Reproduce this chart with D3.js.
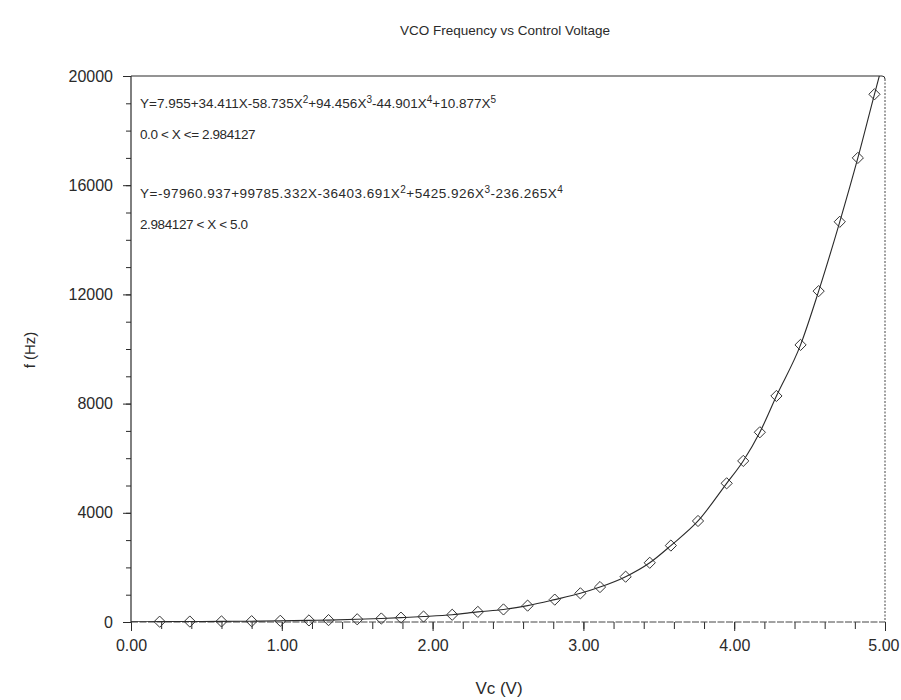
<!DOCTYPE html>
<html><head><meta charset="utf-8">
<script src="https://cdn.jsdelivr.net/npm/d3@7"></script>
<style>
body{margin:0;background:#fff}
text{font-family:"Liberation Sans Narrow","Liberation Sans",Arial,sans-serif;fill:#2a2a2a}
</style>
</head><body>
<svg id="c" width="901" height="700"></svg>
<script>
// ---- data ----
const voltage   = [0.19,0.39,0.60,0.80,0.99,1.18,1.31,1.50,1.66,1.79,1.94,2.13,2.30,2.47,2.63,2.81,2.98,3.11,3.28,3.44,3.58,3.76,3.95,4.06,4.17,4.28,4.44,4.56,4.70,4.82,4.93];
const frequency = [12,17,22,30,44,58,70,100,128,160,200,265,370,460,600,820,1050,1280,1660,2170,2800,3700,5080,5900,6950,8280,10150,12120,14660,17000,19330];
const curveStart = [0.0, 8];
const curveEnd   = [4.97, 20160];
const xTicks = [0,1,2,3,4,5];
const yTicks = [0,4000,8000,12000,16000,20000];
const title  = "VCO Frequency vs Control Voltage";
const xLabel = "Vc (V)";
const yLabel = "f (Hz)";
const equations = [
  "Y=7.955+34.411X-58.735X^2+94.456X^3-44.901X^4+10.877X^5",
  "0.0 < X <= 2.984127",
  "Y=-97960.937+99785.332X-36403.691X^2+5425.926X^3-236.265X^4",
  "2.984127 < X < 5.0"
];

// ---- layout ----
const svg = d3.select("#c");
const L = 131, R = 885, T = 76, B = 622;
const x = d3.scaleLinear().domain([0,5]).range([L,R]);
const y = d3.scaleLinear().domain([0,20000]).range([B,T]);
const ink = "#2a2a2a";

// title
svg.append("text").attr("x",505).attr("y",35).attr("text-anchor","middle")
  .attr("font-size",13.5).text(title);

// frame: top solid, right dotted
svg.append("line").attr("x1",L).attr("x2",R-3).attr("y1",T).attr("y2",T)
  .attr("stroke",ink).attr("stroke-width",1.2);
svg.append("path").attr("d",`M${R-3},${T} Q${R},${T} ${R},${T+3}`).attr("fill","none").attr("stroke",ink);
svg.append("line").attr("x1",R).attr("x2",R).attr("y1",T+3).attr("y2",B)
  .attr("stroke","#444").attr("stroke-width",1).attr("stroke-dasharray","2,1.5");

// y axis
const yMinor = svg.append("g").attr("transform",`translate(${L},0)`)
  .call(d3.axisLeft(y).tickValues(d3.range(0,20001,1000)).tickSize(5).tickFormat(""));
const yAxis = svg.append("g").attr("transform",`translate(${L},0)`)
  .call(d3.axisLeft(y).tickValues(yTicks).tickSize(8).tickPadding(10).tickFormat(d3.format("d")));
// x axis
const xMinor = svg.append("g").attr("transform",`translate(0,${B})`)
  .call(d3.axisBottom(x).tickValues(d3.range(0,5.001,0.2)).tickSize(7).tickFormat(""));
const xAxis = svg.append("g").attr("transform",`translate(0,${B})`)
  .call(d3.axisBottom(x).tickValues(xTicks).tickSize(9).tickPadding(9).tickFormat(d3.format(".2f")));
[yMinor,yAxis,xMinor,xAxis].forEach(g=>{
  g.select(".domain").remove();
  g.selectAll("line").attr("stroke",ink).attr("stroke-width",1);
  g.selectAll("text").attr("font-size",16).attr("fill",ink)
   .style("font-family",'"Liberation Sans Narrow","Liberation Sans",Arial,sans-serif');
});
xAxis.selectAll("text").filter(d=>d===5).attr("text-anchor","end").attr("dx",14);
svg.append("line").attr("x1",L).attr("x2",L).attr("y1",T).attr("y2",B).attr("stroke",ink).attr("stroke-width",1.2);
svg.append("line").attr("x1",L).attr("x2",R).attr("y1",B).attr("y2",B).attr("stroke","#444").attr("stroke-width",1).attr("stroke-dasharray","7,1.5");

// axis labels
svg.append("text").attr("x",499).attr("y",694).attr("text-anchor","middle").attr("font-size",17).text(xLabel);
svg.append("text").attr("transform","translate(35,350) rotate(-90)").attr("text-anchor","middle").attr("font-size",15).text(yLabel);

// equations
const eqY = [108,139,198,229];
const eqSpacing = [0, -0.4, 0.5, -0.4];
equations.forEach((s,i)=>{
  const t = svg.append("text").attr("x",140).attr("y",eqY[i]).attr("font-size",13.5)
    .attr("letter-spacing",eqSpacing[i]);
  const parts = s.split(/(\^\d)/).filter(p=>p.length);
  parts.forEach(p=>{
    if (p[0]==="^") t.append("tspan").attr("baseline-shift","super").attr("font-size",10).text(p.slice(1));
    else t.append("tspan").text(p);
  });
});

// clip
svg.append("clipPath").attr("id","clip").append("rect").attr("x",L).attr("y",T).attr("width",R-L).attr("height",B-T);

const pts = voltage.map((v,i)=>({v, f:frequency[i]}));
const linePts = [{v:curveStart[0],f:curveStart[1]}, ...pts, {v:curveEnd[0],f:curveEnd[1]}];
svg.append("path").datum(linePts).attr("clip-path","url(#clip)")
  .attr("fill","none").attr("stroke",ink).attr("stroke-width",1.1)
  .attr("d",d3.line().x(d=>x(d.v)).y(d=>y(d.f)).curve(d3.curveMonotoneX));

const sym = d3.symbol().type(d3.symbolDiamond2 || d3.symbolDiamond).size(80);
svg.append("g").selectAll("path").data(pts).join("path")
  .attr("transform",d=>`translate(${x(d.v)},${y(d.f)})`)
  .attr("d",sym).attr("fill","none").attr("stroke","#333").attr("stroke-width",1);
</script>
</body></html>
